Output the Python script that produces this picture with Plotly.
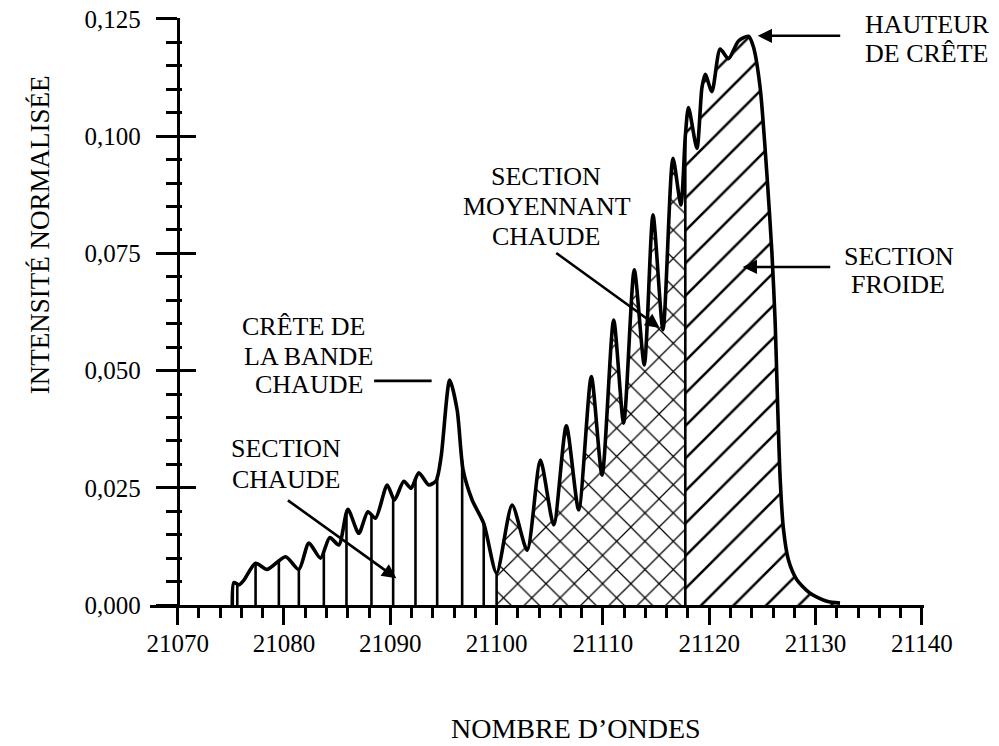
import numpy as np
import plotly.graph_objects as go

# ---------------- data ----------------
WAVENUMBER = [
    21075.14, 21075.29, 21075.76, 21076.23, 21077.33, 21078.43, 21080.15, 21081.40,
    21082.34, 21083.44, 21084.31, 21085.16, 21086.01, 21087.04, 21087.89, 21088.61,
    21089.71, 21090.39, 21091.27, 21091.96, 21092.68, 21093.62, 21094.31, 21094.78,
    21095.59, 21096.29, 21096.85, 21097.70, 21098.79, 21100.00,
    21101.46, 21102.87, 21104.12, 21105.37, 21106.56, 21107.72, 21108.91, 21109.92,
    21111.01, 21111.95, 21112.95, 21113.89, 21114.71, 21115.65, 21116.59, 21117.33,
    21117.75,
    21118.05, 21118.84, 21119.31, 21119.62, 21120.25, 21121.03, 21121.81, 21122.75,
    21123.69, 21124.16, 21124.79, 21125.42, 21125.89, 21126.20, 21126.42, 21126.67,
    21126.98, 21127.45, 21128.24, 21129.49, 21131.06, 21132.30,
]
INTENSITY = [
    0.0000, 0.0048, 0.0043, 0.0053, 0.0089, 0.0076, 0.0103, 0.0076,
    0.0132, 0.0100, 0.0144, 0.0128, 0.0204, 0.0153, 0.0199, 0.0185,
    0.0256, 0.0224, 0.0264, 0.0249, 0.0282, 0.0256, 0.0265, 0.0316,
    0.0480, 0.0416, 0.0288, 0.0224, 0.0174, 0.0068,
    0.0213, 0.0117, 0.0309, 0.0171, 0.0382, 0.0203, 0.0487, 0.0277,
    0.0608, 0.0388, 0.0715, 0.0512, 0.0832, 0.0587, 0.0953, 0.0853,
    0.1000,
    0.1061, 0.0974, 0.1103, 0.1132, 0.1095, 0.1186, 0.1165, 0.1203,
    0.1213, 0.1190, 0.1103, 0.0920, 0.0753, 0.0604, 0.0437, 0.0270,
    0.0162, 0.0096, 0.0054, 0.0025, 0.0008, 0.0004,
]
HOT_END = 21100.0        # end of "section chaude"
MEDIUM_END = 21117.75    # end of "section moyennant chaude"
HOT_LINE_POSITIONS = [
    21075.61, 21077.33, 21079.52, 21081.40, 21083.75, 21085.88, 21088.23,
    21090.27, 21092.37, 21094.41, 21096.76, 21098.79, 21100.00, 21117.75,
]

X_TICKS = [21070, 21080, 21090, 21100, 21110, 21120, 21130, 21140]
X_TICK_LABELS = ["21070", "21080", "21090", "21100", "21110", "21120", "21130", "21140"]
X_MINOR_TICKS = [v for v in range(21072, 21140, 2) if v % 10]
Y_TICKS = [0.0, 0.025, 0.05, 0.075, 0.1, 0.125]
Y_TICK_LABELS = ["0,000", "0,025", "0,050", "0,075", "0,100", "0,125"]
Y_MINOR_TICKS = [round(0.005 * k, 3) for k in range(1, 25) if k % 5]

# label lines: (text, x, y) in data coordinates; x=None -> placed by paper x
LABEL_LINES = [
    ("HAUTEUR", None, 0.12383),
    ("DE CRÊTE", None, 0.11764),
    ("SECTION", 21137.83, 0.07434),
    ("FROIDE", 21137.73, 0.06837),
    ("SECTION", 21104.67, 0.09140),
    ("MOYENNANT", 21104.71, 0.08500),
    ("CHAUDE", 21104.67, 0.07861),
    ("CRÊTE DE", 21081.85, 0.05941),
    ("LA BANDE", 21082.28, 0.05301),
    ("CHAUDE", 21082.37, 0.04704),
    ("SECTION", 21080.21, 0.03338),
    ("CHAUDE", 21080.21, 0.02677),
]
HAUTEUR_PAPER_X = 1.0039

FONT = "Liberation Serif"
X_RANGE = [21067.4, 21140.2]
Y_RANGE = [0.0, 0.1252]
Y_AXIS_POS = (X_TICKS[0] - X_RANGE[0]) / (X_RANGE[1] - X_RANGE[0])

wn = np.array(WAVENUMBER)
it = np.array(INTENSITY)


def section(lo, hi):
    m = (wn >= lo - 1e-9) & (wn <= hi + 1e-9)
    return wn[m], it[m]


fig = go.Figure()

LINE_SHAPE = dict(shape="spline", smoothing=0.7)

hx, hy = section(wn[0], HOT_END)
fig.add_trace(go.Scatter(x=hx, y=hy, mode="lines", fill="tozeroy", fillcolor="white",
                         line=dict(width=0, color="black", **LINE_SHAPE),
                         hoverinfo="skip", showlegend=False))
mx, my = section(HOT_END, MEDIUM_END)
fig.add_trace(go.Scatter(x=mx, y=my, mode="lines", fill="tozeroy",
                         fillpattern=dict(shape="x", size=20, solidity=0.12,
                                          fgcolor="black", bgcolor="white", fillmode="replace"),
                         line=dict(width=0, color="black", **LINE_SHAPE),
                         hoverinfo="skip", showlegend=False))
cx, cy = section(MEDIUM_END, wn[-1])
fig.add_trace(go.Scatter(x=cx, y=cy, mode="lines", fill="tozeroy",
                         fillpattern=dict(shape="/", size=23, solidity=0.11,
                                          fgcolor="black", bgcolor="white", fillmode="replace"),
                         line=dict(width=0, color="black", **LINE_SHAPE),
                         hoverinfo="skip", showlegend=False))

# full spectrum outline
fig.add_trace(go.Scatter(x=wn, y=it, mode="lines",
                         line=dict(width=3.6, color="black", **LINE_SHAPE),
                         hoverinfo="skip", showlegend=False))

# vertical lines of the hot section and section dividers (drawn on overlay axis y2)
tops = np.interp(HOT_LINE_POSITIONS, wn, it)
vx, vy = [], []
for p, t in zip(HOT_LINE_POSITIONS, tops):
    vx += [p, p, None]
    vy += [0.0, float(t), None]
fig.add_trace(go.Scatter(x=vx, y=vy, mode="lines", yaxis="y2",
                         line=dict(width=2.6, color="black"),
                         hoverinfo="skip", showlegend=False))

tickfont = dict(family=FONT, size=25, color="black")

fig.update_layout(
    width=999, height=746,
    margin=dict(l=150, r=75, t=18, b=141, autoexpand=False),
    paper_bgcolor="white", plot_bgcolor="white",
    font=dict(family=FONT, color="black"),
    xaxis=dict(
        range=X_RANGE, showline=True, linecolor="black", linewidth=3,
        showgrid=False, zeroline=False, automargin=False,
        tickmode="array", tickvals=X_TICKS, ticktext=X_TICK_LABELS,
        ticks="outside", ticklen=17, tickwidth=2.5, tickcolor="black",
        ticklabelstandoff=-3, tickfont=tickfont,
        minor=dict(tickmode="array", tickvals=X_MINOR_TICKS, ticks="outside",
                   ticklen=10, tickwidth=2.5, tickcolor="black", showgrid=False),
    ),
    yaxis=dict(
        range=Y_RANGE, anchor="free", position=Y_AXIS_POS,
        showline=True, linecolor="black", linewidth=3,
        showgrid=False, zeroline=False, automargin=False,
        tickmode="array", tickvals=Y_TICKS, ticktext=Y_TICK_LABELS,
        ticks="outside", ticklen=21, tickwidth=2.5, tickcolor="black",
        ticklabelstandoff=10, tickfont=tickfont,
        minor=dict(tickmode="array", tickvals=Y_MINOR_TICKS, ticks="outside",
                   ticklen=11, tickwidth=2.5, tickcolor="black", showgrid=False),
    ),
    yaxis2=dict(
        range=Y_RANGE, overlaying="y", anchor="free", position=Y_AXIS_POS,
        showline=False, showgrid=False, zeroline=False, showticklabels=False,
        automargin=False,
        tickmode="array", tickvals=Y_TICKS,
        ticks="inside", ticklen=17, tickwidth=2.5, tickcolor="black",
        minor=dict(tickmode="array", tickvals=Y_MINOR_TICKS, ticks="inside",
                   ticklen=3, tickwidth=2.5, tickcolor="black", showgrid=False),
    ),
)

txt = dict(family=FONT, size=26, color="black")
arrow = dict(showarrow=True, arrowcolor="black", arrowwidth=2.6, arrowhead=2,
             arrowsize=1.1, standoff=0, startstandoff=0, axref="x", ayref="y",
             xref="x", yref="y", text="")

annotations = []
for text, lx, ly in LABEL_LINES:
    if lx is None:
        annotations.append(dict(x=HAUTEUR_PAPER_X, y=ly, xref="paper", yref="y", text=text,
                                showarrow=False, font=txt, xanchor="center", yanchor="middle"))
    else:
        annotations.append(dict(x=lx, y=ly, xref="x", yref="y", text=text,
                                showarrow=False, font=txt, xanchor="center", yanchor="middle"))

annotations += [
    # pointers
    dict(arrow, x=21124.56, y=0.1214, ax=21132.46, ay=0.1214),
    dict(arrow, x=21123.15, y=0.0721, ax=21131.52, ay=0.0721),
    dict(arrow, x=21115.34, y=0.0591, ax=21105.47, ay=0.0753),
    dict(arrow, x=21093.89, y=0.0478, ax=21088.34, ay=0.0478, arrowhead=0),
    dict(arrow, x=21090.57, y=0.0057, ax=21080.23, ay=0.02255),
    # axis titles
    dict(x=-0.142, y=0.0789, xref="paper", yref="y", text="INTENSITÉ NORMALISÉE",
         textangle=-90, showarrow=False, font=dict(family=FONT, size=27, color="black"),
         xanchor="center", yanchor="middle"),
    dict(x=21107.44, y=-0.2112, xref="x", yref="paper", text="NOMBRE D’ONDES",
         showarrow=False, font=dict(family=FONT, size=28, color="black"),
         xanchor="center", yanchor="middle"),
]
fig.update_layout(annotations=annotations)

fig.write_html("out.html")
